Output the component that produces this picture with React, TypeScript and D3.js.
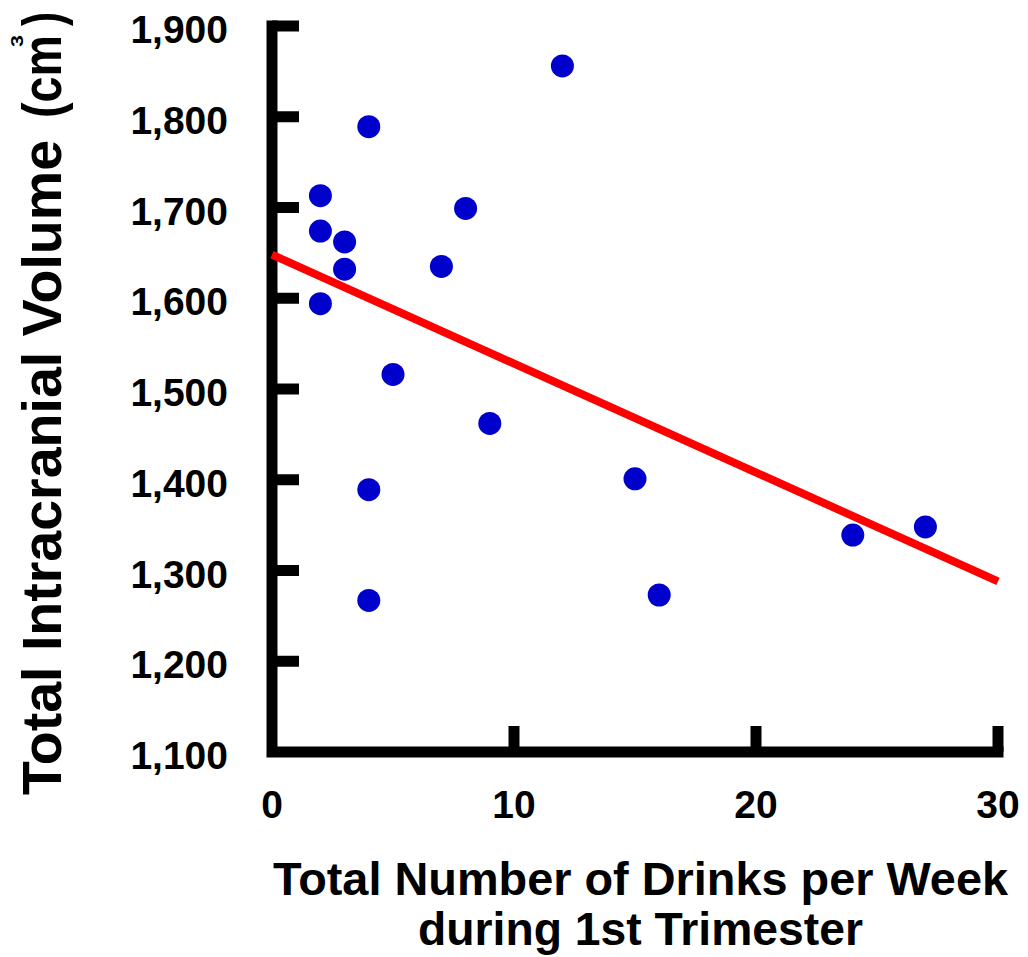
import React from "react";
import * as d3 from "d3";

const drinks = [2, 2, 2, 3, 3, 4, 4, 4, 5, 7, 8, 9, 12, 15, 16, 24, 27];
const volumes = [1713, 1674, 1594, 1662, 1632, 1789, 1389, 1267, 1516, 1635, 1699, 1462, 1856, 1401, 1273, 1339, 1348];
const fitX = [0, 30];
const fitY = [1648, 1288];
const xTicks = [0, 10, 20, 30];
const yTicks = [1100, 1200, 1300, 1400, 1500, 1600, 1700, 1800, 1900];

const width = 1028;
const height = 957;
const font = "'Liberation Sans Narrow', 'Liberation Sans', Arial, sans-serif";
const tickFont = "'Liberation Sans', Arial, sans-serif";

const App = () => {
  const x = d3.scaleLinear().domain([0, 30]).range([272, 998]);
  const y = d3.scaleLinear().domain([1100, 1900]).range([752, 26]);
  const fmt = d3.format(",");

  const fitLine = d3
    .line<number>()
    .x((d) => x(d))
    .y((d, i) => y(fitY[i]));

  const axisPath = `M${x(0)},${y(1900)}V${y(1100)}H${x(30)}`;

  return (
    <svg
      width={width}
      height={height}
      style={{ position: "absolute", left: 0, top: 0, background: "#fff" }}
    >
      {/* axes */}
      <path
        d={axisPath}
        fill="none"
        stroke="#000"
        strokeWidth={11}
        strokeLinecap="square"
        strokeLinejoin="miter"
      />
      {yTicks.slice(1).map((t) => (
        <line key={"yt" + t} x1={x(0)} x2={x(0) + 27} y1={y(t)} y2={y(t)} stroke="#000" strokeWidth={11} />
      ))}
      {xTicks.slice(1).map((t) => (
        <line key={"xt" + t} x1={x(t)} x2={x(t)} y1={y(1100)} y2={y(1100) - 26} stroke="#000" strokeWidth={11} />
      ))}

      {/* tick labels */}
      {yTicks.map((t) => (
        <text
          key={"yl" + t}
          x={228}
          y={y(t) + 17}
          textAnchor="end"
          fontFamily={tickFont}
          fontWeight="bold"
          fontSize={39}
        >
          {fmt(t)}
        </text>
      ))}
      {xTicks.map((t) => (
        <text
          key={"xl" + t}
          x={x(t)}
          y={818}
          textAnchor="middle"
          fontFamily={tickFont}
          fontWeight="bold"
          fontSize={39}
        >
          {t}
        </text>
      ))}

      {/* regression line */}
      <path d={fitLine(fitX) || ""} fill="none" stroke="#ff0000" strokeWidth={8} />

      {/* points */}
      {drinks.map((d, i) => (
        <circle key={"p" + i} cx={x(d)} cy={y(volumes[i])} r={11.5} fill="#0000cc" />
      ))}

      {/* axis titles */}
      <text
        x={640.5}
        y={895}
        textAnchor="middle"
        fontFamily={font}
        fontWeight="bold"
        fontSize={46}
        textLength={735}
        lengthAdjust="spacingAndGlyphs"
      >
        Total Number of Drinks per Week
      </text>
      <text
        x={640.5}
        y={945}
        textAnchor="middle"
        fontFamily={font}
        fontWeight="bold"
        fontSize={46}
        textLength={445}
        lengthAdjust="spacingAndGlyphs"
      >
        during 1st Trimester
      </text>
      <g transform="translate(61,795) rotate(-90)" fontFamily={font} fontWeight="bold">
        <text x={0} y={0} fontSize={56} textLength={655} lengthAdjust="spacingAndGlyphs">
          Total Intracranial Volume
        </text>
        <text x={677} y={0} fontSize={56} textLength={83} lengthAdjust="spacingAndGlyphs">
          (cm
        </text>
        <text x={748} y={-38} fontSize={17} textLength={12} lengthAdjust="spacingAndGlyphs">
          3
        </text>
        <text x={769} y={0} fontSize={56} textLength={14} lengthAdjust="spacingAndGlyphs">
          )
        </text>
      </g>
    </svg>
  );
};

export default App;
